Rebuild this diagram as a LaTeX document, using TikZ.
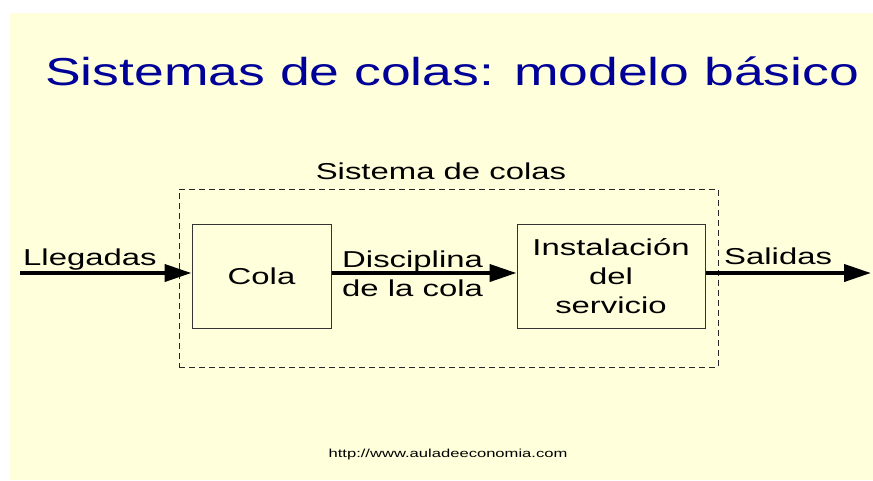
\documentclass[tikz,border=0pt]{standalone}
\usepackage{fontspec}
\setmainfont{Liberation Sans}
\newfontfamily\wfont[FakeStretch=1.43]{Liberation Sans}
\newfontfamily\tfont[FakeStretch=1.372]{Liberation Sans}
\usetikzlibrary{arrows.meta}
\definecolor{bgyellow}{RGB}{255,255,220}
\definecolor{titleblue}{RGB}{0,0,153}
\tikzset{
  box/.style={draw=black!80, line width=1pt, inner sep=0pt, align=center,
    font=\wfont\fontsize{23}{29}\selectfont},
  sysbox/.style={draw=black!85, line width=0.9pt, dash pattern=on 6pt off 4pt, inner sep=0pt},
  lbl/.style={inner sep=0pt, font=\wfont\fontsize{23}{29}\selectfont},
  flow/.style={line width=4pt, -{Triangle[length=27pt,width=17pt]}}
}
\begin{document}
\begin{tikzpicture}[x=1pt,y=-1pt]
\useasboundingbox (0,0) rectangle (873,480);
\fill[bgyellow] (10,13) rectangle (873,480);
\node[inner sep=0pt, anchor=base west, text=titleblue, font=\tfont\fontsize{39}{44}\selectfont] (title) at (45,85) {Sistemas de colas: modelo básico};
\node[sysbox, minimum width=539pt, minimum height=178pt] (sys) at (448.5,278) {};
\node[lbl, anchor=base] (syslbl) at (441,179) {Sistema de colas};
\node[box, minimum width=139pt, minimum height=104pt] (cola) at (261.5,276) {Cola};
\node[box, minimum width=188pt, minimum height=104pt] (inst) at (611,276) {Instalación\\del\\servicio};
\coordinate (in) at (20,273);
\coordinate (out) at (871,273);
\draw[flow] (in) -- (in -| cola.west);
\draw[flow] (cola.east |- in) -- (inst.west |- in);
\draw[flow] (inst.east |- in) -- (out);
\node[lbl, anchor=base west] (lleg) at (23,265) {Llegadas};
\node[lbl, anchor=base west] (disc) at (342,267) {Disciplina};
\node[lbl, anchor=base west] (disc2) at (342,296) {de la cola};
\node[lbl, anchor=base west] (sal) at (724,264) {Salidas};
\node[inner sep=0pt, anchor=base, font=\wfont\fontsize{11.6}{14}\selectfont] (url) at (448,457) {http://www.auladeeconomia.com};
\end{tikzpicture}
\end{document}
